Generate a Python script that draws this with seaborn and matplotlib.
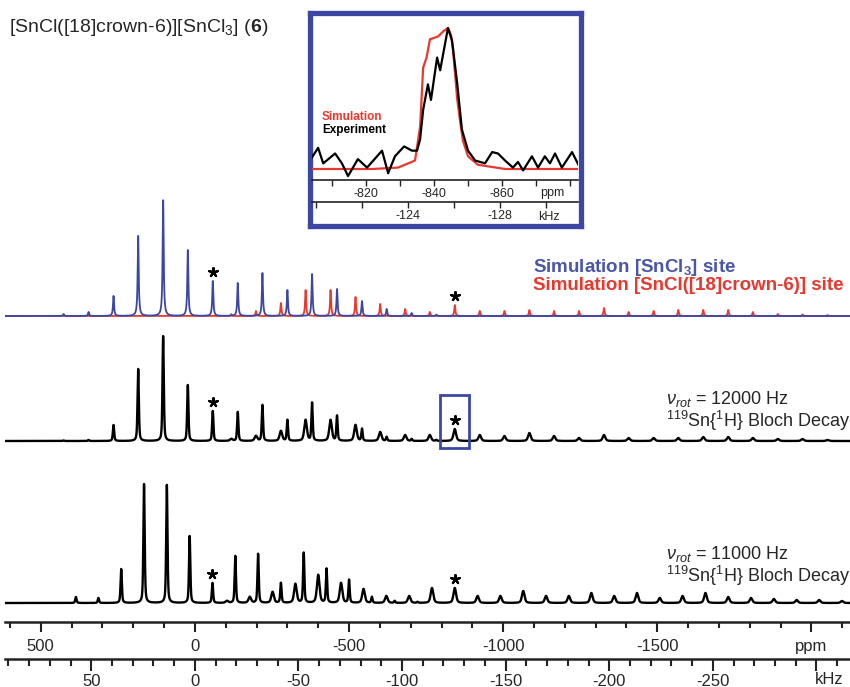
import numpy as np
import pandas as pd
import matplotlib
matplotlib.use("Agg")
import matplotlib.pyplot as plt
import seaborn as sns
from matplotlib.ticker import MultipleLocator, FixedLocator, FuncFormatter

sns.set_style("ticks")
plt.rcParams['font.family'] = ['Liberation Sans', 'DejaVu Sans']
plt.rcParams['mathtext.fontset'] = 'custom'
plt.rcParams['mathtext.rm'] = 'Liberation Sans'
plt.rcParams['mathtext.it'] = 'Liberation Sans:italic'
plt.rcParams['mathtext.bf'] = 'Liberation Sans:bold'
plt.rcParams['axes.unicode_minus'] = False

# ---- sideband positions (ppm) and intensities ----
# 12 kHz: [SnCl3] site
sncl3_12_ppm = [426, 345, 264, 184, 103, 23, -58, -139, -219, -300, -380, -461, -542, -622, -703, -783]
sim12_sncl3 = [2, 4, 20, 80, 116, 66, 35, 33, 43, 26, 42, 27, 15, 7, 3, 1.5]
exp12_sncl3 = [0.5, 1, 16, 72, 105, 56, 30, 29, 36, 21, 38, 25, 12, 4, 2, 1]
# 12 kHz: [SnCl([18]crown-6)] site
crown12_ppm = [-118, -198, -279, -359, -440, -521, -601, -682, -762, -843,
               -924, -1004, -1085, -1165, -1246, -1327, -1407, -1488, -1568, -1649,
               -1730, -1810, -1891, -1971, -2052]
sim12_crown = [2, 5, 13, 26, 26, 19, 12, 7, 4, 11,
               5, 5, 6, 5, 5, 8, 4, 5, 6, 6,
               6, 4, 2, 1.5, 1]
exp12_crown = [2, 5, 10, 21, 21, 16, 9, 6, 6, 12,
               6, 5, 8, 5, 3, 6, 3, 3, 3, 4,
               4, 3, 2, 2, 1]
# 11 kHz
sncl3_11_ppm = [386, 313, 239, 165, 91, 17, -57, -131, -205, -279, -353, -427, -500, -574, -648, -722]
exp11_sncl3 = [6, 5, 34, 119, 118, 67, 20, 47, 49, 20, 50, 34, 23, 6, 2, 1]
crown11_ppm = [-104, -178, -252, -326, -400, -474, -547, -621, -695, -769,
               -843, -917, -991, -1065, -1139, -1213, -1286, -1360, -1434, -1508,
               -1582, -1656, -1730, -1804, -1878, -1952, -2025, -2099]
exp11_crown = [2, 6, 11, 19, 28, 20, 14, 7, 7, 15,
               15, 7, 7, 12, 7, 7, 10, 7, 10, 5,
               7, 10, 6, 5, 4, 3, 3, 2]
iso_sncl3 = -58
iso_crown = -843

# ---- inset: isotropic line of the crown site ----
inset_sim_ppm = [-804.1, -821.8, -829.4, -834.4, -835.9, -836.8, -837.8, -838.8, -841.2, -842.9,
                 -844.1, -845.0, -845.6, -846.8, -847.6, -848.5, -850.0, -852.9, -860.9, -882.4]
inset_sim_int = [0.0, 0.0, 0.01, 0.06, 0.3, 0.72, 0.79, 0.92, 0.94, 0.98,
                 1.0, 0.95, 0.84, 0.5, 0.35, 0.2, 0.09, 0.03, 0.0, 0.0]
inset_exp_ppm = [-803.5, -805.9, -807.4, -810.9, -812.9, -814.7, -817.6, -820.3, -824.7, -826.5,
                 -828.5, -831.2, -833.5, -835.0, -835.9, -836.8, -838.2, -839.1, -840.9, -841.8,
                 -844.1, -845.3, -846.8, -848.2, -850.0, -852.1, -855.0, -857.1, -858.8, -860.9,
                 -863.2, -864.7, -866.2, -868.8, -870.6, -872.6, -874.1, -875.6, -877.6, -880.6,
                 -882.9]
inset_exp_int = [0.06, 0.15, 0.04, 0.11, 0.04, -0.05, 0.07, 0.01, 0.13, -0.03,
                 0.09, 0.16, 0.13, 0.13, 0.21, 0.42, 0.60, 0.49, 0.79, 0.70,
                 1.0, 0.91, 0.61, 0.28, 0.13, 0.06, 0.04, 0.12, 0.11, 0.06,
                 0.01, 0.05, -0.01, 0.09, 0.01, 0.09, 0.04, 0.11, 0.01, 0.12,
                 0.01]

BLUE = '#3c47a3'
RED = '#e8392f'
TXT_BLUE = '#4b56a8'
AXC = '#222222'
W, H = 850, 687


def box(x0, y0, x1, y1):
    return [x0 / W, 1 - y1 / H, (x1 - x0) / W, (y1 - y0) / H]


def lines(grid, pos, amp, fwhm, gauss=0.0):
    y = np.zeros_like(grid)
    hw = fwhm / 2
    for p, a in zip(pos, amp):
        d = (grid - p) / hw
        y += a * ((1 - gauss) / (1 + d ** 2) + gauss * np.exp(-np.log(2) * d ** 2))
    return y


fig = plt.figure(figsize=(W / 100, H / 100), dpi=100)
ax = fig.add_axes(box(5, 180, 850, 622))
ax.set_facecolor('none')

grid = np.linspace(617, -2126, 12000)

# stacked traces (vertical offsets in px above the ppm axis)
off_sim, off12, off11 = 306, 181, 19

df_red = pd.DataFrame({'ppm': grid, 'I': off_sim + lines(grid, crown12_ppm, sim12_crown, 4.0)})
df_blue = pd.DataFrame({'ppm': grid, 'I': off_sim + lines(grid, sncl3_12_ppm, sim12_sncl3, 4.0)})
e12 = lines(grid, sncl3_12_ppm, exp12_sncl3, 5.0, 0.5) + lines(grid, crown12_ppm, exp12_crown, 10.0, 0.5)
e11 = lines(grid, sncl3_11_ppm, exp11_sncl3, 5.0, 0.5) + lines(grid, crown11_ppm, exp11_crown, 10.0, 0.5)
df12 = pd.DataFrame({'ppm': grid, 'I': off12 + e12})
df11 = pd.DataFrame({'ppm': grid, 'I': off11 + e11})

sns.lineplot(data=df_red, x='ppm', y='I', color=RED, lw=1.3, estimator=None, sort=False, ax=ax)
sns.lineplot(data=df_blue, x='ppm', y='I', color=BLUE, lw=1.3, estimator=None, sort=False, ax=ax)
sns.lineplot(data=df12, x='ppm', y='I', color='black', lw=1.7, estimator=None, sort=False, ax=ax)
sns.lineplot(data=df11, x='ppm', y='I', color='black', lw=1.7, estimator=None, sort=False, ax=ax)

# isotropic markers
stars = [(iso_sncl3, off_sim + sim12_sncl3[6]), (iso_crown, off_sim + sim12_crown[9]),
         (iso_sncl3, off12 + exp12_sncl3[6]), (iso_crown, off12 + exp12_crown[9]),
         (sncl3_11_ppm[6], off11 + exp11_sncl3[6]), (crown11_ppm[10], off11 + exp11_crown[10])]
for sx, sy in stars:
    ax.scatter(sx, sy + 9, marker=(5, 2, 0), s=40, color='black', linewidths=1.6, zorder=5)

ax.add_patch(plt.Rectangle((-795, off12 - 7), -94, 53, fill=False, ec=BLUE, lw=2, zorder=6))

ax.set_xlim(616, -2125)
ax.set_ylim(0, 442)
ax.set_xlabel('')
ax.set_ylabel('')
ax.set_yticks([])
for s in ['left', 'right', 'top']:
    ax.spines[s].set_visible(False)
ax.spines['bottom'].set_linewidth(1.8)
ax.spines['bottom'].set_color(AXC)
ax.xaxis.set_major_locator(FixedLocator([500, 0, -500, -1000, -1500, -2000]))
ax.xaxis.set_minor_locator(MultipleLocator(100))
ax.xaxis.set_major_formatter(FuncFormatter(lambda v, p: 'ppm' if round(v) == -2000 else str(int(round(v)))))
ax.tick_params(axis='x', which='major', bottom=True, direction='out', length=7, width=1.5,
               labelsize=12, pad=5, color=AXC)
ax.tick_params(axis='x', which='minor', bottom=True, direction='out', length=4.5, width=1.5, color=AXC)

sec = ax.secondary_xaxis(-37 / 442, functions=(lambda p: p / 6.72, lambda k: k * 6.72))
sec.spines['bottom'].set_linewidth(1.8)
sec.spines['bottom'].set_color(AXC)
sec.xaxis.set_major_locator(FixedLocator([50, 0, -50, -100, -150, -200, -250, -300]))
sec.xaxis.set_minor_locator(MultipleLocator(10))
sec.xaxis.set_major_formatter(FuncFormatter(lambda v, p: '' if round(v) == -300 else str(int(round(v)))))
sec.tick_params(axis='x', which='major', direction='out', length=8.5, width=1.5, labelsize=12, pad=2, color=AXC)
sec.tick_params(axis='x', which='minor', direction='out', length=5, width=1.5, color=AXC)
fig.text(829 / W, 1 - 680 / H, 'kHz', ha='center', va='center', fontsize=12)

# ---- texts ----
fig.text(9 / W, 1 - 27 / H, r'[SnCl([18]crown-6)][SnCl$_3$] ($\mathbf{6}$)', ha='left', va='center', fontsize=14)
fig.text(533 / W, 1 - 268 / H, r'Simulation [SnCl$_\mathbf{3}$] site', color=TXT_BLUE,
         fontweight='bold', fontsize=13.5, ha='left', va='center')
fig.text(533 / W, 1 - 286 / H, 'Simulation [SnCl([18]crown-6)] site', color=RED,
         fontweight='bold', fontsize=13.5, ha='left', va='center')
for yy, hz in [(411, '12000'), (566, '11000')]:
    fig.text(666 / W, 1 - yy / H, r'$\nu_{rot}$ = ' + hz + ' Hz' + '\n' + r'$^{119}$Sn{$^{1}$H} Bloch Decay',
             fontsize=13, ha='left', va='center', linespacing=0.95)

# ---- inset ----
frame = fig.add_axes(box(309.5, 12.5, 580.5, 225.5))
frame.set_xticks([])
frame.set_yticks([])
frame.set_facecolor('white')
for s in frame.spines.values():
    s.set_color(BLUE)
    s.set_linewidth(3.8)
frame.set_zorder(5)

ins = fig.add_axes(box(312, 15, 578, 180))
ins.set_zorder(6)
ins.set_facecolor('none')
sns.lineplot(x=inset_sim_ppm, y=inset_sim_int, color=RED, lw=1.6, estimator=None, sort=False, ax=ins)
sns.lineplot(x=inset_exp_ppm, y=inset_exp_int, color='black', lw=1.6, estimator=None, sort=False, ax=ins)
ins.set_xlim(-804.1, -882.35)
ins.set_ylim(-0.078, 1.092)
ins.set_yticks([])
for s in ['left', 'right', 'top']:
    ins.spines[s].set_visible(False)
ins.spines['bottom'].set_linewidth(1.2)
ins.spines['bottom'].set_color(AXC)
ins.xaxis.set_major_locator(FixedLocator([-820, -840, -860]))
ins.xaxis.set_minor_locator(FixedLocator([-810, -830, -850, -870, -880]))
ins.xaxis.set_major_formatter(FuncFormatter(lambda v, p: str(int(round(v)))))
ins.tick_params(axis='x', which='both', bottom=True, direction='out', length=4, width=1,
                labelsize=9, pad=2, color=AXC)

isec = ins.secondary_xaxis(-22 / 165, functions=(lambda p: (p - 6.5) / 6.765, lambda k: k * 6.765 + 6.5))
isec.spines['bottom'].set_linewidth(1.2)
isec.spines['bottom'].set_color(AXC)
isec.xaxis.set_major_locator(FixedLocator([-124, -128]))
isec.xaxis.set_minor_locator(FixedLocator([-120, -122, -126, -130]))
isec.xaxis.set_major_formatter(FuncFormatter(lambda v, p: str(int(round(v)))))
isec.tick_params(axis='x', which='both', direction='out', length=4, width=1, labelsize=9, pad=2, color=AXC)

fig.text(552 / W, 1 - 193 / H, 'ppm', ha='center', va='center', fontsize=9, zorder=10)
fig.text(549 / W, 1 - 217 / H, 'kHz', ha='center', va='center', fontsize=9, zorder=10)
fig.text(322 / W, 1 - 117 / H, 'Simulation', color=RED, fontweight='bold', fontsize=8.5, ha='left', va='center', zorder=10)
fig.text(322 / W, 1 - 130 / H, 'Experiment', color='black', fontweight='bold', fontsize=8.5, ha='left', va='center', zorder=10)

fig.savefig('out.png', dpi=100)
plt.close()
